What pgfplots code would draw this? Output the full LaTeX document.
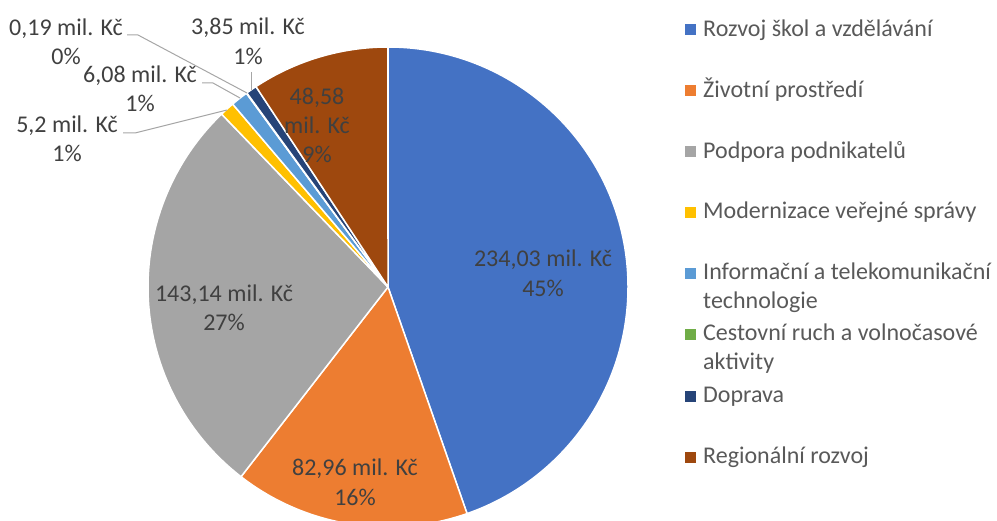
\documentclass[border=0pt]{standalone}
\usepackage{fontspec}
\setmainfont{Carlito}
\usepackage{pgfplots}
\pgfplotsset{compat=1.18}
\definecolor{cA}{HTML}{4472C4}
\definecolor{cB}{HTML}{ED7D31}
\definecolor{cC}{HTML}{A5A5A5}
\definecolor{cD}{HTML}{FFC000}
\definecolor{cE}{HTML}{5B9BD5}
\definecolor{cF}{HTML}{70AD47}
\definecolor{cG}{HTML}{264478}
\definecolor{cH}{HTML}{9E480E}
\definecolor{txt}{HTML}{404040}
\definecolor{legtxt}{HTML}{595959}
\definecolor{lead}{HTML}{A6A6A6}
% slice values (mil. Kc)
\def\vA{234.03}\def\vB{82.96}\def\vC{143.14}\def\vD{5.2}%
\def\vE{6.08}\def\vF{0.19}\def\vG{3.85}\def\vH{48.58}%
\pgfmathsetmacro\tot{\vA+\vB+\vC+\vD+\vE+\vF+\vG+\vH}%
\pgfmathsetmacro\aA{90}%
\pgfmathsetmacro\aB{\aA-360*(\vA/\tot)}%
\pgfmathsetmacro\aC{\aB-360*(\vB/\tot)}%
\pgfmathsetmacro\aD{\aC-360*(\vC/\tot)}%
\pgfmathsetmacro\aE{\aD-360*(\vD/\tot)}%
\pgfmathsetmacro\aF{\aE-360*(\vE/\tot)}%
\pgfmathsetmacro\aG{\aF-360*(\vF/\tot)}%
\pgfmathsetmacro\aH{\aG-360*(\vG/\tot)}%
\pgfmathsetmacro\aI{\aH-360*(\vH/\tot)}%
\newcommand\slice[3]{\fill[#1,draw=white,line width=1.5bp] (axis cs:388,287) -- ++(#2:240bp) arc[start angle=#2,end angle=#3,radius=240bp] -- cycle;}
\begin{document}%
\begin{tikzpicture}[lbl/.style={anchor=base,inner sep=0pt,text=txt,font=\fontsize{24bp}{29bp}\selectfont},
 leg/.style={anchor=base west,inner sep=0pt,text=legtxt,font=\fontsize{24bp}{29bp}\selectfont}]
\begin{axis}[x=1bp,y=1bp,y dir=reverse,xmin=0,xmax=997,ymin=0,ymax=521,hide axis,clip=true]
\slice{cA}{\aA}{\aB}
\slice{cB}{\aB}{\aC}
\slice{cC}{\aC}{\aD}
\slice{cD}{\aD}{\aE}
\slice{cE}{\aE}{\aF}
\slice{cF}{\aF}{\aG}
\slice{cG}{\aG}{\aH}
\slice{cH}{\aH}{\aI}
% inner labels
\node[lbl] at (axis cs:543,267) {234,03 mil. Kč};
\node[lbl] at (axis cs:543,297) {45\%};
\node[lbl] at (axis cs:355,475) {82,96 mil. Kč};
\node[lbl] at (axis cs:355,505) {16\%};
\node[lbl] at (axis cs:224,302) {143,14 mil. Kč};
\node[lbl] at (axis cs:224,331) {27\%};
\node[lbl] at (axis cs:317,105) {48,58};
\node[lbl] at (axis cs:317,134) {mil. Kč};
\node[lbl] at (axis cs:317,163) {9\%};
% outer labels
\node[lbl] at (axis cs:248,35) {3,85 mil. Kč};
\node[lbl] at (axis cs:248,65) {1\%};
\node[lbl] at (axis cs:66,36) {0,19 mil. Kč};
\node[lbl] at (axis cs:66,65) {0\%};
\node[lbl] at (axis cs:140,83) {6,08 mil. Kč};
\node[lbl] at (axis cs:140,112) {1\%};
\node[lbl] at (axis cs:67,133) {5,2 mil. Kč};
\node[lbl] at (axis cs:67,162) {1\%};
% leader lines
\draw[lead,line width=1bp] (axis cs:251,72) -- (axis cs:251,90);
\draw[lead,line width=1bp] (axis cs:127,35) -- (axis cs:138,35) -- (axis cs:247,93);
\draw[lead,line width=1bp] (axis cs:202,83) -- (axis cs:213,83) -- (axis cs:240,98);
\draw[lead,line width=1bp] (axis cs:123,133) -- (axis cs:135,133) -- (axis cs:227,110);
% legend
\fill[cA] (axis cs:685,24.5) rectangle (axis cs:696,35.5);
\node[leg] at (axis cs:703,37) {Rozvoj škol a vzdělávání};
\fill[cB] (axis cs:685,85.5) rectangle (axis cs:696,96.5);
\node[leg] at (axis cs:703,98) {Životní prostředí};
\fill[cC] (axis cs:685,146.5) rectangle (axis cs:696,157.5);
\node[leg] at (axis cs:703,159) {Podpora podnikatelů};
\fill[cD] (axis cs:685,207) rectangle (axis cs:696,218);
\node[leg] at (axis cs:703,219) {Modernizace veřejné správy};
\fill[cE] (axis cs:685,268.5) rectangle (axis cs:696,279.5);
\node[leg] at (axis cs:703,280) {Informační a telekomunikační};
\node[leg] at (axis cs:703,309) {technologie};
\fill[cF] (axis cs:685,329.5) rectangle (axis cs:696,340.5);
\node[leg] at (axis cs:703,341) {Cestovní ruch a volnočasové};
\node[leg] at (axis cs:703,370) {aktivity};
\fill[cG] (axis cs:685,390.5) rectangle (axis cs:696,401.5);
\node[leg] at (axis cs:703,402) {Doprava};
\fill[cH] (axis cs:685,451.5) rectangle (axis cs:696,462.5);
\node[leg] at (axis cs:703,463) {Regionální rozvoj};
\end{axis}
\pgfresetboundingbox
\path[use as bounding box] (current axis.south west) rectangle (current axis.north east);
\end{tikzpicture}%
\end{document}
